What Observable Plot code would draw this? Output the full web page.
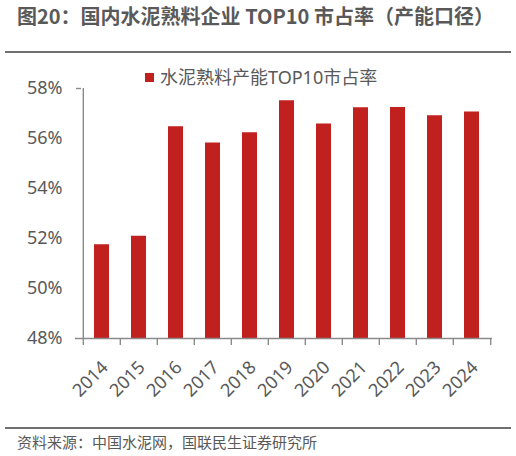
<!DOCTYPE html>
<html><head><meta charset="utf-8">
<script src="https://cdn.jsdelivr.net/npm/d3@7"></script>
<script src="https://cdn.jsdelivr.net/npm/@observablehq/plot@0.6"></script>
<style>
body{margin:0;background:#fff;font-family:"Noto Sans","Noto Sans CJK SC",sans-serif;}
#wrap{position:relative;width:516px;height:456px;overflow:hidden;background:#fff;}
#title{position:absolute;left:17px;top:6px;font-size:20px;line-height:20px;font-weight:bold;color:#595959;white-space:nowrap;z-index:2;font-family:"Noto Sans CJK SC",sans-serif;}
.hline{position:absolute;left:5px;width:506px;height:2px;background:#6f6f6f;z-index:2;}
#legend{position:absolute;left:145px;top:68px;height:18px;font-size:18px;line-height:18px;color:#595959;display:flex;align-items:center;white-space:nowrap;z-index:2;}
#legend .sw{display:inline-block;width:9px;height:9px;background:#C0201E;margin-right:6px;}
#chart{position:absolute;left:0;top:60px;z-index:1;}
#source{position:absolute;left:17px;top:434px;font-size:15px;line-height:15px;color:#595959;white-space:nowrap;z-index:2;font-family:"Noto Sans CJK SC",sans-serif;}
</style>
</head><body>
<div id="wrap">
  <div id="chart"></div>
  <div id="title">图20：国内水泥熟料企业 TOP10 市占率（产能口径）</div>
  <div class="hline" style="top:51px"></div>
  <div id="legend"><span class="sw"></span><span>水泥熟料产能TOP10市占率</span></div>
  <div class="hline" style="top:427px"></div>
  <div id="source">资料来源：中国水泥网，国联民生证券研究所</div>
</div>
<script>
const years = ["2014","2015","2016","2017","2018","2019","2020","2021","2022","2023","2024"];
const shares = [51.75, 52.09, 56.47, 55.82, 56.23, 57.51, 56.58, 57.23, 57.24, 56.91, 57.06];
const yTicks = [48, 50, 52, 54, 56, 58];
const seriesName = "水泥熟料产能TOP10市占率";

const data = years.map((y, i) => ({year: y, share: shares[i]}));

const W = 516, H = 360, ML = 81, MR = 24, MT = 28, MB = 82;
const step = (W - ML - MR) / years.length;
const axisColor = "#8a8a8a";
const textColor = "#595959";

const chart = Plot.plot({
  width: W, height: H,
  marginLeft: ML, marginRight: MR, marginTop: MT, marginBottom: MB,
  style: {fontFamily: "'Noto Sans', 'Noto Sans CJK SC', sans-serif", fontSize: "18px", color: textColor, background: "transparent", overflow: "visible"},
  x: {type: "band", domain: years, paddingInner: 0.6, paddingOuter: 0.3, axis: null},
  y: {domain: [48, 58]},
  marks: [
    Plot.barY(data, {x: "year", y1: 48, y2: "share", fill: "#C0201E", title: d => `${seriesName} ${d.year}: ${d.share}%`}),
    Plot.ruleY([48], {stroke: axisColor, strokeWidth: 1.4, insetLeft: -6}),
    Plot.ruleX([years[0]], {x: d => d, dx: -step / 2, y1: 48, y2: 58, stroke: axisColor, strokeWidth: 1.4}),
    Plot.ruleX(years, {x: d => d, dx: -step / 2, y1: 48, y2: 48, insetBottom: -7, stroke: axisColor, strokeWidth: 1.4}),
    Plot.ruleX([years[years.length - 1]], {x: d => d, dx: step / 2, y1: 48, y2: 48, insetBottom: -7, stroke: axisColor, strokeWidth: 1.4}),
    Plot.axisY({ticks: [58], tickSize: 5, tickFormat: () => "", stroke: axisColor, strokeWidth: 1.4, label: null}),
    Plot.axisY({ticks: yTicks, tickSize: 0, tickPadding: 19, tickFormat: d => d + "%", fill: textColor, fontSize: 18, label: null}),
    Plot.text(years, {x: d => d, frameAnchor: "bottom", dx: 3, dy: 26, rotate: -45, textAnchor: "end", lineAnchor: "middle", fill: textColor, fontSize: 18})
  ]
});
document.getElementById("chart").appendChild(chart);
</script>
</body></html>
